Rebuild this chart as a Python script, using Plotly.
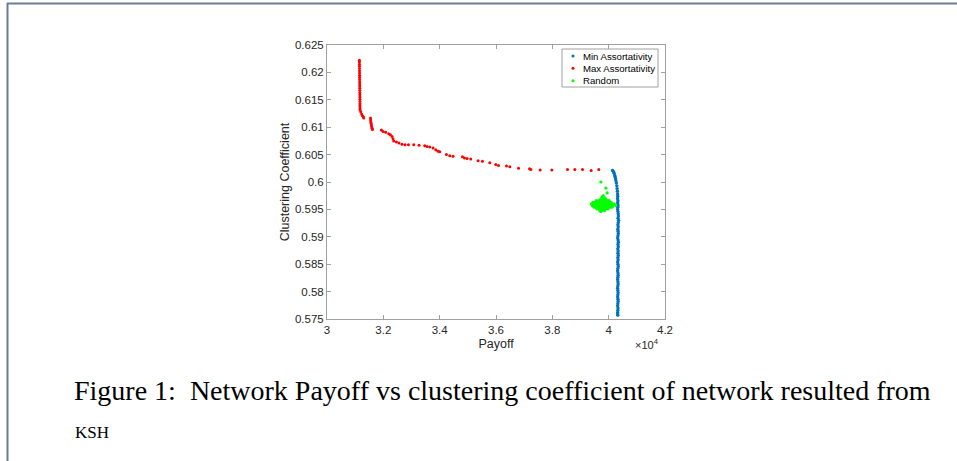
import plotly.graph_objects as go

# ---------------- data (payoff, clustering coefficient) ----------------
max_x = [31150, 31151, 31152, 31153, 31154, 31155, 31156, 31157, 31158, 31159, 31160, 31161,
         31162, 31163, 31164, 31165, 31166, 31167, 31168, 31169, 31170, 31171, 31172, 31172,
         31197, 31230, 31257, 31290, 31304,
         31545, 31550, 31556, 31565, 31575, 31585, 31600, 31612,
         31932, 31990, 32085, 32192, 32252, 32309, 32344, 32369, 32465, 32557, 32664, 32771,
         32891, 33080, 33268, 33470, 33552, 33648, 33765, 33861, 33943, 34003, 34241, 34358,
         34476, 34809, 34880, 34973, 35104, 35364, 35520, 35779, 35992, 36088, 36372, 36490,
         36799, 37190, 37236, 37566, 37982, 38539, 38798, 39072, 39378, 39651]
max_y = [0.6222, 0.6219, 0.6215, 0.6211, 0.6207, 0.6203, 0.6199, 0.6195, 0.6191, 0.6187, 0.6183, 0.6179,
         0.6175, 0.6171, 0.6167, 0.6163, 0.6159, 0.6155, 0.6151, 0.6147, 0.6143, 0.6139, 0.6135, 0.6132,
         0.6128, 0.6124, 0.6121, 0.6119, 0.6117,
         0.6117, 0.6113, 0.6110, 0.6107, 0.6104, 0.6101, 0.6098, 0.6096,
         0.6095, 0.6092, 0.6091, 0.6088, 0.6086, 0.6083, 0.6079, 0.6075, 0.6073, 0.6071, 0.6069, 0.6068,
         0.6068, 0.6068, 0.6067, 0.6066, 0.6065, 0.6064, 0.6062, 0.6059, 0.6056, 0.6055, 0.6050, 0.6048,
         0.6047, 0.6046, 0.6044, 0.6043, 0.6042, 0.6039, 0.6038, 0.6035, 0.6032, 0.6030, 0.6029, 0.6028,
         0.6025, 0.6024, 0.6023, 0.6022, 0.6022, 0.6023, 0.6023, 0.6023, 0.6021, 0.6023]

min_x = [40137, 40170, 40195, 40215, 40230, 40244, 40260, 40275, 40290, 40300, 40310, 40318,
         40322, 40315, 40328, 40320, 40333, 40325, 40318, 40330, 40338, 40345, 40332, 40350,
         40342, 40328, 40338, 40325, 40335, 40342, 40330, 40320, 40335, 40345, 40330, 40340,
         40325, 40335, 40330, 40340, 40325, 40335, 40320, 40330, 40340, 40325, 40318, 40330,
         40335, 40325, 40320, 40330, 40335, 40325, 40318, 40325, 40335,
         40325, 40320, 40330, 40335, 40325, 40318, 40330, 40325, 40320, 40318, 40325]
min_y = [0.6021, 0.6019, 0.6016, 0.6012, 0.6009, 0.6006, 0.6002, 0.5998, 0.5993, 0.5988, 0.5983, 0.5978,
         0.5974, 0.5970, 0.5966, 0.5962, 0.5958, 0.5954, 0.5950, 0.5946, 0.5942, 0.5938, 0.5934, 0.5930,
         0.5926, 0.5922, 0.5918, 0.5914, 0.5910, 0.5906, 0.5902, 0.5898, 0.5894, 0.5890, 0.5886, 0.5882,
         0.5878, 0.5874, 0.5870, 0.5866, 0.5862, 0.5858, 0.5854, 0.5850, 0.5846, 0.5842, 0.5838, 0.5834,
         0.5830, 0.5826, 0.5822, 0.5818, 0.5814, 0.5810, 0.5806, 0.5802, 0.5798,
         0.5794, 0.5790, 0.5786, 0.5782, 0.5778, 0.5774, 0.5770, 0.5766, 0.5762, 0.5759, 0.5757]

rnd_x = [39700, 39820, 39900,
         39560, 39650, 39740, 39830, 39950, 40020,
         39450, 39520, 39600, 39680, 39760, 39840, 39920, 40000, 40080,
         39390, 39470, 39550, 39630, 39710, 39790, 39870, 39950, 40030, 40110, 40200,
         39420, 39500, 39580, 39660, 39740, 39820, 39900, 39980, 40060, 40140, 40250,
         39480, 39560, 39640, 39720, 39800, 39880, 39960, 40040, 40120,
         39580, 39660, 39740, 39820, 39900, 39980,
         39680, 39780, 39860,
         39720,
         39723, 39900, 39946, 39804, 39870, 39760]
rnd_y = [0.5968, 0.5968, 0.5968,
         0.5966, 0.5966, 0.5966, 0.5966, 0.5966, 0.5966,
         0.5963, 0.5963, 0.5963, 0.5963, 0.5963, 0.5963, 0.5963, 0.5963, 0.5963,
         0.5960, 0.5960, 0.5960, 0.5960, 0.5960, 0.5960, 0.5960, 0.5960, 0.5960, 0.5960, 0.5960,
         0.5957, 0.5957, 0.5957, 0.5957, 0.5957, 0.5957, 0.5957, 0.5957, 0.5957, 0.5957, 0.5957,
         0.5954, 0.5954, 0.5954, 0.5954, 0.5954, 0.5954, 0.5954, 0.5954, 0.5954,
         0.5951, 0.5951, 0.5951, 0.5951, 0.5951, 0.5951,
         0.5948, 0.5948, 0.5948,
         0.5946,
         0.6000, 0.5989, 0.5980, 0.5975, 0.5971, 0.5972]

x_ticks = [30000, 32000, 34000, 36000, 38000, 40000, 42000]
x_tick_labels = ["3", "3.2", "3.4", "3.6", "3.8", "4", "4.2"]
y_ticks = [0.575, 0.58, 0.585, 0.59, 0.595, 0.6, 0.605, 0.61, 0.615, 0.62, 0.625]
y_tick_labels = ["0.575", "0.58", "0.585", "0.59", "0.595", "0.6", "0.605", "0.61", "0.615", "0.62", "0.625"]

series_names = ["Min Assortativity", "Max Assortativity", "Random"]
series_colors = ["#0072BD", "#FF0000", "#00FF00"]

# ---------------- figure ----------------
W, H = 957, 461
L, R, T, B = 327, 292, 45, 142
PW, PH = W - L - R, H - T - B


def px(x):
    return (x - L) / PW


def py(y):
    return 1 - (y - T) / PH


fig = go.Figure()
for xs, ys, name, col, sz in [(min_x, min_y, series_names[0], series_colors[0], 3.4),
                              (max_x, max_y, series_names[1], series_colors[1], 3.0),
                              (rnd_x, rnd_y, series_names[2], series_colors[2], 3.2)]:
    fig.add_trace(go.Scatter(x=xs, y=ys, mode="markers", name=name, showlegend=False,
                             marker=dict(color=col, size=sz, line=dict(width=0))))

axis_col = "#a0a0a0"
sans = "Liberation Sans, Arial, sans-serif"
tick_font = dict(family=sans, size=11.5, color="#262626")
fig.update_xaxes(range=[30000, 42000], tickvals=x_ticks, ticktext=x_tick_labels,
                 showgrid=False, zeroline=False, showline=True, mirror="ticks",
                 linecolor=axis_col, linewidth=1, ticks="inside", ticklen=4, tickcolor=axis_col,
                 tickfont=tick_font,
                 title=dict(text="Payoff", standoff=4, font=dict(family=sans, size=12.5, color="#262626")))
fig.update_yaxes(range=[0.575, 0.625], tickvals=y_ticks, ticktext=y_tick_labels,
                 showgrid=False, zeroline=False, showline=True, mirror="ticks",
                 linecolor=axis_col, linewidth=1, ticks="inside", ticklen=4, tickcolor=axis_col,
                 tickfont=tick_font,
                 title=dict(text="Clustering Coefficient", standoff=2,
                            font=dict(family=sans, size=12.5, color="#262626")))

shapes = []
annotations = []

# page border (top and left)
bcol = "#6a7d98"
shapes.append(dict(type="line", xref="paper", yref="paper", x0=px(7), x1=px(957), y0=py(3.5), y1=py(3.5),
                   line=dict(color=bcol, width=2)))
shapes.append(dict(type="line", xref="paper", yref="paper", x0=px(7.5), x1=px(7.5), y0=py(3), y1=py(461),
                   line=dict(color=bcol, width=2)))

# legend box
shapes.append(dict(type="rect", xref="paper", yref="paper", x0=px(562), x1=px(658), y0=py(87), y1=py(49),
                   line=dict(color=axis_col, width=1), fillcolor="white"))
rows = [56, 68.3, 80.7]
for r, name, col in zip(rows, series_names, series_colors):
    shapes.append(dict(type="circle", xref="paper", yref="paper", x0=px(571.5), x1=px(574.5),
                       y0=py(r + 1.5), y1=py(r - 1.5), line=dict(width=0), fillcolor=col))
    annotations.append(dict(text=name, xref="paper", yref="paper", x=px(580.5), y=py(r),
                            xanchor="left", yanchor="middle", showarrow=False,
                            font=dict(family=sans, size=9.6, color="#000000")))

# x10^4 exponent label
annotations.append(dict(text="×10<sup>4</sup>", xref="paper", yref="paper", x=px(647), y=py(344),
                        xanchor="center", yanchor="middle", showarrow=False,
                        font=dict(family=sans, size=11, color="#262626")))

# caption
annotations.append(dict(text="Figure 1:  Network Payoff vs clustering coefficient of network resulted from",
                        xref="paper", yref="paper", x=px(72), y=py(390), xanchor="left", yanchor="middle",
                        showarrow=False,
                        font=dict(family="Liberation Serif, Times New Roman, serif", size=28, color="#000000")))
annotations.append(dict(text="KSH", xref="paper", yref="paper", x=px(73), y=py(432), xanchor="left",
                        yanchor="middle", showarrow=False,
                        font=dict(family="Liberation Serif, Times New Roman, serif", size=17, color="#000000")))

fig.update_layout(width=W, height=H, margin=dict(l=L, r=R, t=T, b=B, autoexpand=False),
                  paper_bgcolor="white", plot_bgcolor="white", showlegend=False,
                  shapes=shapes, annotations=annotations)

fig.write_html("out.html", config={"displayModeBar": False},
               post_script="document.body.style.margin='0px';document.body.style.padding='0px';")
